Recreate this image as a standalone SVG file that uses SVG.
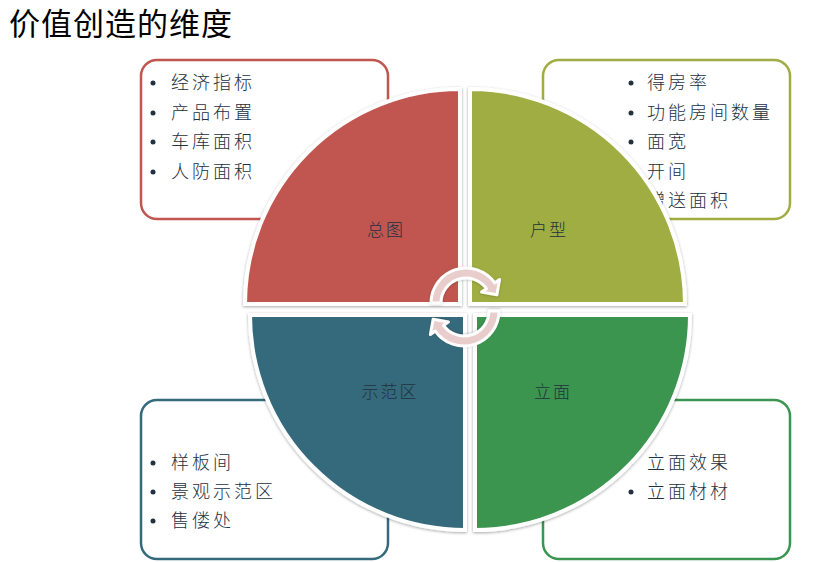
<svg xmlns="http://www.w3.org/2000/svg" width="825" height="562" viewBox="0 0 825 562">
<defs>
<style>
.bx{fill:#fff;stroke-width:2.5}
.t{font-family:"Noto Sans CJK SC","Noto Sans CJK TC",sans-serif;font-size:18px;font-weight:300;fill:#22313f;letter-spacing:3px}
.lb{font-family:"Noto Sans CJK SC","Noto Sans CJK TC",sans-serif;font-size:17px;font-weight:300;fill:#22313f;letter-spacing:2px;text-anchor:middle}
.dot{fill:#22313f}
.q{stroke:#fff;stroke-width:4;filter:url(#sh)}
.arr{fill:#e9cdcd;stroke:#fff;stroke-width:3;stroke-linejoin:round;filter:url(#sh2)}
</style>
<filter id="sh" x="-10%" y="-10%" width="120%" height="120%">
<feDropShadow dx="0" dy="1" stdDeviation="1.5" flood-color="#000" flood-opacity="0.35"/>
</filter>
<filter id="sh2" x="-20%" y="-20%" width="140%" height="140%">
<feDropShadow dx="0" dy="0.5" stdDeviation="1" flood-color="#000" flood-opacity="0.25"/>
</filter>
</defs>
<rect width="825" height="562" fill="#fff"/>
<text x="9" y="35" font-family="'Noto Sans CJK SC','Microsoft YaHei',sans-serif" font-size="31" letter-spacing="1" fill="#000">价值创造的维度</text>

<g id="box-zongtu">
<rect class="bx" x="141" y="60" width="247" height="159" rx="16" stroke="#c0564f"/>
<circle class="dot" cx="153" cy="83" r="2.5"/><text class="t" x="171" y="89">经济指标</text>
<circle class="dot" cx="153" cy="113" r="2.5"/><text class="t" x="171" y="119">产品布置</text>
<circle class="dot" cx="153" cy="142" r="2.5"/><text class="t" x="171" y="148">车库面积</text>
<circle class="dot" cx="153" cy="172" r="2.5"/><text class="t" x="171" y="178">人防面积</text>
</g>
<g id="box-huxing">
<rect class="bx" x="543" y="60" width="247" height="159" rx="16" stroke="#a0ad42"/>
<circle class="dot" cx="631" cy="83" r="2.5"/><text class="t" x="647" y="89">得房率</text>
<circle class="dot" cx="631" cy="113" r="2.5"/><text class="t" x="647" y="119">功能房间数量</text>
<circle class="dot" cx="631" cy="142" r="2.5"/><text class="t" x="647" y="148">面宽</text>
<circle class="dot" cx="631" cy="172" r="2.5"/><text class="t" x="647" y="178">开间</text>
<circle class="dot" cx="631" cy="201" r="2.5"/><text class="t" x="647" y="207">赠送面积</text>
</g>
<g id="box-shifanqu">
<rect class="bx" x="141" y="400" width="247" height="159" rx="16" stroke="#356a7c"/>
<circle class="dot" cx="153" cy="463" r="2.5"/><text class="t" x="171" y="469">样板间</text>
<circle class="dot" cx="153" cy="492" r="2.5"/><text class="t" x="171" y="498">景观示范区</text>
<circle class="dot" cx="153" cy="521" r="2.5"/><text class="t" x="171" y="527">售偻处</text>
</g>
<g id="box-limian">
<rect class="bx" x="543" y="400" width="247" height="159" rx="16" stroke="#3a9550"/>
<circle class="dot" cx="630" cy="463" r="2.5"/><text class="t" x="647" y="469">立面效果</text>
<circle class="dot" cx="631" cy="492" r="2.5"/><text class="t" x="647" y="498">立面材材</text>
</g>

<g id="q-zongtu">
<path class="q" fill="#c0564f" d="M460,304 L245,304 A215,215 0 0 1 460,89 Z"/>
<text class="lb" x="386" y="236">总图</text>
</g>
<g id="q-huxing">
<path class="q" fill="#a0ad42" d="M470,304 L470,89 A215,215 0 0 1 685,304 Z"/>
<text class="lb" x="549" y="236">户型</text>
</g>
<g id="q-shifanqu">
<path class="q" fill="#356a7c" d="M465,315 L465,530 A215,215 0 0 1 250,315 Z"/>
<text class="lb" x="390" y="398">示范区</text>
</g>
<g id="q-limian">
<path class="q" fill="#3a9550" d="M475,315 L690,315 A215,215 0 0 1 475,530 Z"/>
<text class="lb" x="553" y="398">立面</text>
</g>

<g id="connectors">
<path class="arr" d="M431,303 A35,35 0 0 1 494.67,282.92 L499.59,279.48 L496.88,294.80 L481.56,292.10 L486.48,288.66 A25,25 0 0 0 441,303 Z"/>
<path class="arr" transform="rotate(180 465 307)" d="M431,303 A35,35 0 0 1 494.67,282.92 L499.59,279.48 L496.88,294.80 L481.56,292.10 L486.48,288.66 A25,25 0 0 0 441,303 Z"/>
</g>
</svg>
